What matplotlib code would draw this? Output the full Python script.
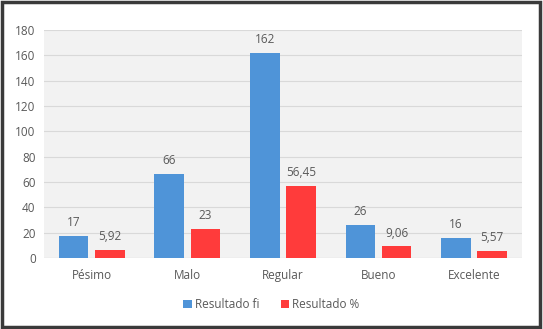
import matplotlib.pyplot as plt
import numpy as np
from matplotlib.patches import Rectangle

plt.rcParams['font.family'] = ['Open Sans', 'DejaVu Sans']

categories = ["Pésimo", "Malo", "Regular", "Bueno", "Excelente"]
resultado_fi = [17, 66, 162, 26, 16]
resultado_pct = [5.92, 23, 56.45, 9.06, 5.57]
series_names = ["Resultado fi", "Resultado %"]
yticks = [0, 20, 40, 60, 80, 100, 120, 140, 160, 180]

text_color = "#595959"
blue = "#4f94d8"
red = "#ff3b3b"

fig = plt.figure(figsize=(5.43, 3.29), dpi=100)
ax = fig.add_axes([0.081, 0.216, 0.88, 0.693])
ax.set_facecolor("#f2f2f2")

x = np.arange(len(categories))
w = 0.31
off = 0.19
b1 = ax.bar(x - off, resultado_fi, width=w, color=blue, label=series_names[0], zorder=3)
b2 = ax.bar(x + off, resultado_pct, width=w, color=red, label=series_names[1], zorder=3)

def fmt(v):
    s = f"{v:g}"
    return s.replace(".", ",")

for rect, v in zip(b1, resultado_fi):
    ax.annotate(fmt(v), (rect.get_x() + rect.get_width() / 2, v), xytext=(0, 5),
                textcoords="offset points", ha="center", va="bottom", fontsize=8.5, color=text_color)
for rect, v in zip(b2, resultado_pct):
    ax.annotate(fmt(v), (rect.get_x() + rect.get_width() / 2, v), xytext=(0, 5),
                textcoords="offset points", ha="center", va="bottom", fontsize=8.5, color=text_color)

ax.set_xlim(-0.5, len(categories) - 0.5)
ax.set_ylim(0, 180)
ax.set_yticks(yticks)
ax.set_xticks(x)
ax.set_xticklabels(categories)
ax.tick_params(axis="both", length=0, labelsize=8.5, colors=text_color)
ax.tick_params(axis="x", pad=8)
ax.tick_params(axis="y", pad=6)
ax.grid(axis="y", color="#d9d9d9", linewidth=0.8, zorder=0)
for s in ax.spines.values():
    s.set_visible(False)
ax.axhline(0, color="#d9d9d9", linewidth=0.8, zorder=2)

fig.legend(loc="center", bbox_to_anchor=(0.5, 0.075), ncol=2, frameon=False,
           fontsize=8.5, labelcolor=text_color, handlelength=0.7, handleheight=0.7,
           handletextpad=0.3, columnspacing=1.8)

fig.patches.append(Rectangle((0.003, 0.005), 0.992, 0.99, transform=fig.transFigure,
                             fill=False, edgecolor="#3a3a3a", linewidth=2.5))

fig.savefig("out.png", dpi=100)
